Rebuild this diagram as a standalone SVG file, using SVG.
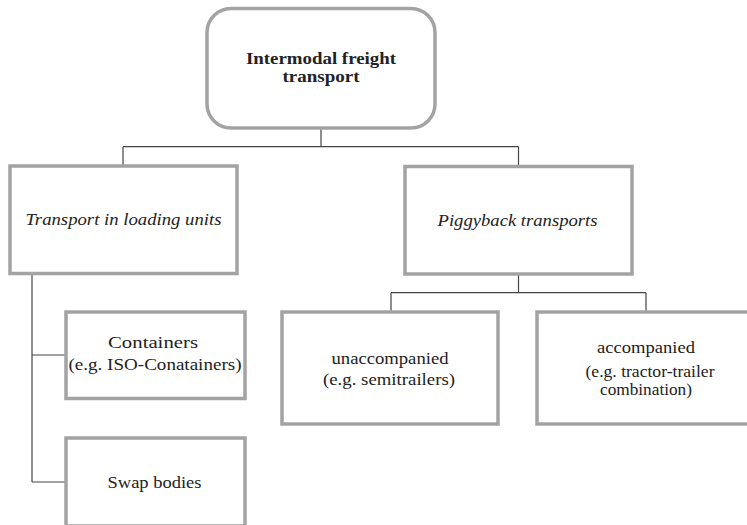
<svg xmlns="http://www.w3.org/2000/svg" width="747" height="525" viewBox="0 0 747 525">
  <style>
    .box { fill: #ffffff; stroke: #a3a3a3; stroke-width: 3.5; }
    .lbl { font-family: "Liberation Serif", "Times New Roman", serif; font-size: 17px; fill: #222222; text-anchor: middle; }
    .title { font-weight: bold; font-size: 16px; }
    .it { font-style: italic; }
    .conn { fill: none; stroke: #444444; stroke-width: 1.2; }
  </style>
  <rect width="747" height="525" fill="#ffffff"/>

  <!-- connectors -->
  <g id="connectors">
    <path class="conn" d="M321 128 V146.7 M123 146.7 H518.5 M123 146.7 V166 M518.5 146.7 V166"/>
    <path class="conn" d="M518.5 274 V292.7 M391 292.7 H646 M391 292.7 V312 M646 292.7 V312"/>
    <path class="conn" d="M32 274 V482 M32 355 H66 M32 482 H66"/>
  </g>

  <g id="root">
    <rect class="box" x="207" y="8.5" width="228" height="119.5" rx="24" ry="24"/>
    <text class="lbl title" x="321" y="64" textLength="150" lengthAdjust="spacingAndGlyphs">Intermodal freight</text>
    <text class="lbl title" x="321" y="82" textLength="77" lengthAdjust="spacingAndGlyphs">transport</text>
  </g>

  <g id="loading-units">
    <rect class="box" x="10" y="166" width="227" height="107.5"/>
    <text class="lbl it" x="123.5" y="225" textLength="196" lengthAdjust="spacingAndGlyphs">Transport in loading units</text>
  </g>

  <g id="piggyback">
    <rect class="box" x="405" y="166.5" width="227" height="107.5"/>
    <text class="lbl it" x="517.5" y="226" textLength="160" lengthAdjust="spacingAndGlyphs">Piggyback transports</text>
  </g>

  <g id="containers">
    <rect class="box" x="66" y="312" width="179" height="86.5"/>
    <text class="lbl" x="153" y="348" textLength="90" lengthAdjust="spacingAndGlyphs">Containers</text>
    <text class="lbl" x="155" y="370" textLength="173" lengthAdjust="spacingAndGlyphs">(e.g. ISO-Conatainers)</text>
  </g>

  <g id="swap-bodies">
    <rect class="box" x="66" y="438" width="179" height="88"/>
    <text class="lbl" x="154.5" y="488" textLength="94" lengthAdjust="spacingAndGlyphs">Swap bodies</text>
  </g>

  <g id="unaccompanied">
    <rect class="box" x="282" y="312" width="216" height="112"/>
    <text class="lbl" x="390" y="364" textLength="117" lengthAdjust="spacingAndGlyphs">unaccompanied</text>
    <text class="lbl" x="389" y="385" textLength="132" lengthAdjust="spacingAndGlyphs">(e.g. semitrailers)</text>
  </g>

  <g id="accompanied">
    <rect class="box" x="537" y="312" width="218" height="112"/>
    <text class="lbl" x="646" y="353" textLength="98" lengthAdjust="spacingAndGlyphs">accompanied</text>
    <text class="lbl" x="650" y="377" textLength="129" lengthAdjust="spacingAndGlyphs">(e.g. tractor-trailer</text>
    <text class="lbl" x="646" y="395" textLength="92" lengthAdjust="spacingAndGlyphs">combination)</text>
  </g>
</svg>
